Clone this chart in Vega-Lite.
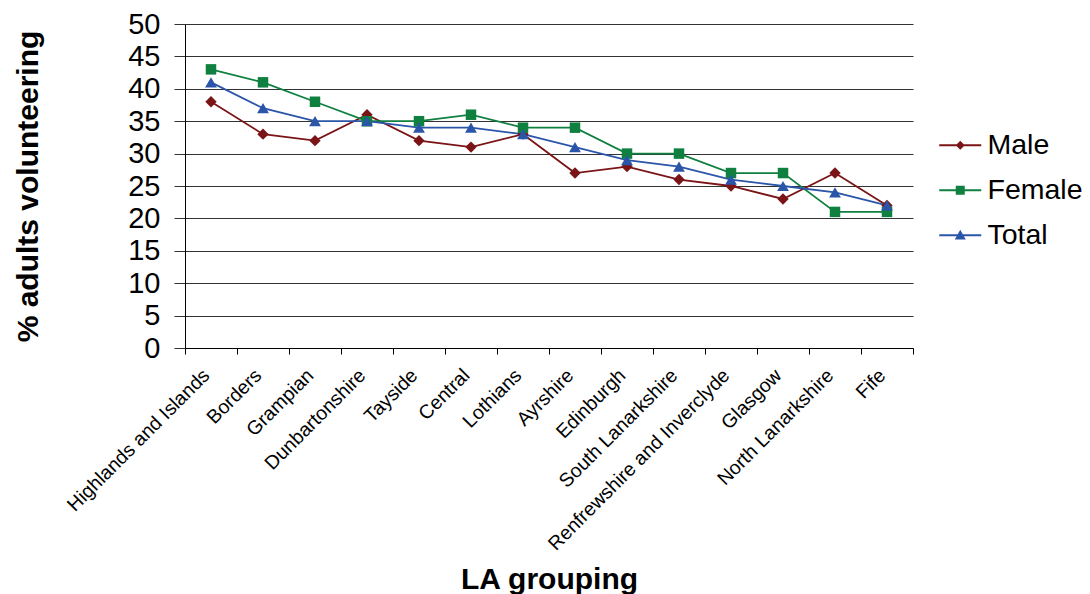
{
  "$schema": "https://vega.github.io/schema/vega-lite/v6.json",
  "width": 728,
  "height": 324,
  "autosize": {"type": "none"},
  "padding": {"left": 185, "top": 24, "right": 177, "bottom": 246},
  "background": "white",
  "data": {
    "values": [
      {"la": "Highlands and Islands", "series": "Male", "value": 38},
      {"la": "Borders", "series": "Male", "value": 33},
      {"la": "Grampian", "series": "Male", "value": 32},
      {"la": "Dunbartonshire", "series": "Male", "value": 36},
      {"la": "Tayside", "series": "Male", "value": 32},
      {"la": "Central", "series": "Male", "value": 31},
      {"la": "Lothians", "series": "Male", "value": 33},
      {"la": "Ayrshire", "series": "Male", "value": 27},
      {"la": "Edinburgh", "series": "Male", "value": 28},
      {"la": "South Lanarkshire", "series": "Male", "value": 26},
      {"la": "Renfrewshire and Inverclyde", "series": "Male", "value": 25},
      {"la": "Glasgow", "series": "Male", "value": 23},
      {"la": "North Lanarkshire", "series": "Male", "value": 27},
      {"la": "Fife", "series": "Male", "value": 22},
      {"la": "Highlands and Islands", "series": "Female", "value": 43},
      {"la": "Borders", "series": "Female", "value": 41},
      {"la": "Grampian", "series": "Female", "value": 38},
      {"la": "Dunbartonshire", "series": "Female", "value": 35},
      {"la": "Tayside", "series": "Female", "value": 35},
      {"la": "Central", "series": "Female", "value": 36},
      {"la": "Lothians", "series": "Female", "value": 34},
      {"la": "Ayrshire", "series": "Female", "value": 34},
      {"la": "Edinburgh", "series": "Female", "value": 30},
      {"la": "South Lanarkshire", "series": "Female", "value": 30},
      {"la": "Renfrewshire and Inverclyde", "series": "Female", "value": 27},
      {"la": "Glasgow", "series": "Female", "value": 27},
      {"la": "North Lanarkshire", "series": "Female", "value": 21},
      {"la": "Fife", "series": "Female", "value": 21},
      {"la": "Highlands and Islands", "series": "Total", "value": 41},
      {"la": "Borders", "series": "Total", "value": 37},
      {"la": "Grampian", "series": "Total", "value": 35},
      {"la": "Dunbartonshire", "series": "Total", "value": 35},
      {"la": "Tayside", "series": "Total", "value": 34},
      {"la": "Central", "series": "Total", "value": 34},
      {"la": "Lothians", "series": "Total", "value": 33},
      {"la": "Ayrshire", "series": "Total", "value": 31},
      {"la": "Edinburgh", "series": "Total", "value": 29},
      {"la": "South Lanarkshire", "series": "Total", "value": 28},
      {"la": "Renfrewshire and Inverclyde", "series": "Total", "value": 26},
      {"la": "Glasgow", "series": "Total", "value": 25},
      {"la": "North Lanarkshire", "series": "Total", "value": 24},
      {"la": "Fife", "series": "Total", "value": 22}
    ]
  },
  "encoding": {
    "x": {
      "field": "la",
      "type": "nominal",
      "sort": ["Highlands and Islands", "Borders", "Grampian", "Dunbartonshire", "Tayside", "Central", "Lothians", "Ayrshire", "Edinburgh", "South Lanarkshire", "Renfrewshire and Inverclyde", "Glasgow", "North Lanarkshire", "Fife"],
      "scale": {"type": "band", "paddingInner": 0, "paddingOuter": 0},
      "axis": {
        "title": "LA grouping",
        "titleFont": "Liberation Sans",
        "titleFontSize": 30,
        "titleFontWeight": "bold",
        "titleColor": "black",
        "titleX": 364,
        "titleY": 240,
        "titleAlign": "center",
        "titleBaseline": "alphabetic",
        "labelAngle": -45,
        "labelAlign": "right",
        "labelBaseline": "middle",
        "labelFont": "Liberation Sans",
        "labelFontSize": 19.5,
        "labelColor": "black",
        "labelPadding": 18,
        "labelOffset": -5,
        "labelOverlap": false,
        "labelLimit": 400,
        "tickBand": "extent",
        "tickSize": 6,
        "tickColor": "black",
        "domainColor": "black",
        "grid": false
      }
    },
    "y": {
      "field": "value",
      "type": "quantitative",
      "scale": {"domain": [0, 50], "nice": false},
      "axis": {
        "title": "% adults volunteering",
        "titleFont": "Liberation Sans",
        "titleFontSize": 30,
        "titleFontWeight": "bold",
        "titleColor": "black",
        "titleAngle": -90,
        "titleX": -157,
        "titleY": 162,
        "titleAlign": "center",
        "titleBaseline": "middle",
        "values": [0, 5, 10, 15, 20, 25, 30, 35, 40, 45, 50],
        "labelFont": "Liberation Sans",
        "labelFontSize": 29,
        "labelColor": "black",
        "labelPadding": 14,
        "tickSize": 11,
        "tickColor": "#333333",
        "domainColor": "black",
        "grid": true,
        "gridColor": "#333333",
        "gridWidth": 1.2
      }
    },
    "color": {
      "field": "series",
      "type": "nominal",
      "scale": {"domain": ["Male", "Female", "Total"], "range": ["#7a1416", "#0f8040", "#2b55a8"]},
      "legend": {
        "title": null,
        "orient": "none",
        "legendX": 761,
        "legendY": 107,
        "labelFont": "Liberation Sans",
        "labelFontSize": 28.5,
        "labelColor": "black",
        "labelOffset": 13,
        "symbolSize": 400,
        "rowPadding": 16,
        "encode": {
          "symbols": {
            "update": {
              "shape": {"signal": "datum.value === 'Male' ? 'M-2.1,-0.1L2.1,-0.1L2.1,0.1L-2.1,0.1Z M0,-0.45L0.45,0L0,0.45L-0.45,0Z' : datum.value === 'Female' ? 'M-2.1,-0.1L2.1,-0.1L2.1,0.1L-2.1,0.1Z M-0.45,-0.45L0.45,-0.45L0.45,0.45L-0.45,0.45Z' : 'M-2.1,-0.1L2.1,-0.1L2.1,0.1L-2.1,0.1Z M0,-0.55L0.55,0.42L-0.55,0.42Z'"},
              "fill": {"signal": "scale('color', datum.value)"},
              "stroke": {"value": "transparent"},
              "strokeWidth": {"value": 0},
              "opacity": {"value": 1},
              "fillOpacity": {"value": 1}
            }
          }
        }
      }
    }
  },
  "layer": [
    {"mark": {"type": "line", "strokeWidth": 1.8}},
    {
      "transform": [{"filter": "datum.series === 'Male'"}],
      "mark": {"type": "point", "shape": "diamond", "filled": true, "size": 130, "opacity": 1}
    },
    {
      "transform": [{"filter": "datum.series === 'Female'"}],
      "mark": {"type": "point", "shape": "square", "filled": true, "size": 110, "opacity": 1}
    },
    {
      "transform": [{"filter": "datum.series === 'Total'"}],
      "mark": {"type": "point", "shape": "triangle-up", "filled": true, "size": 140, "opacity": 1}
    }
  ],
  "config": {
    "view": {"stroke": null}
  }
}
